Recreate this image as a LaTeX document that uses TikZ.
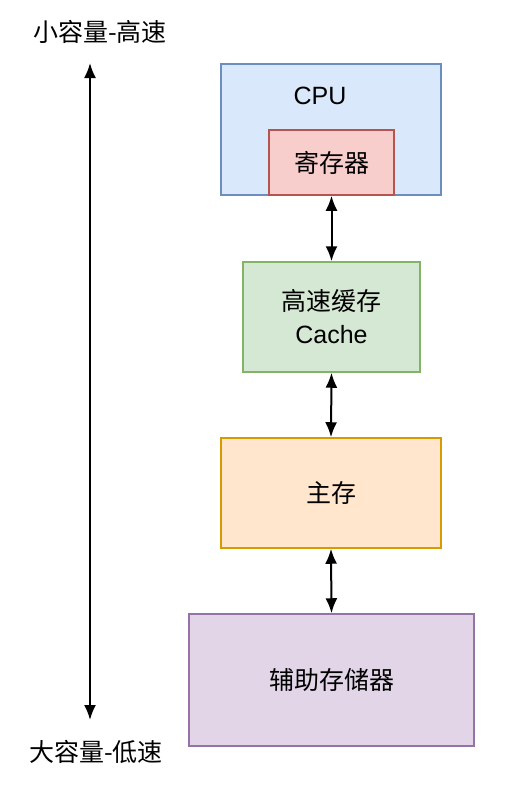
\documentclass[tikz,border=0pt]{standalone}
\usepackage{fontspec}
\setmainfont{Liberation Sans}
\newfontfamily\cjk{Noto Sans CJK SC}
\usepackage{tikz}
\usetikzlibrary{positioning}
\usetikzlibrary{arrows.meta}
\usepackage{xcolor}

\definecolor{blueFill}{HTML}{DAE8FC}
\definecolor{blueLine}{HTML}{6C8EBF}
\definecolor{redFill}{HTML}{F8CECC}
\definecolor{redLine}{HTML}{B85450}
\definecolor{greenFill}{HTML}{D5E8D4}
\definecolor{greenLine}{HTML}{82B366}
\definecolor{orangeFill}{HTML}{FFE6CC}
\definecolor{orangeLine}{HTML}{D79B00}
\definecolor{purpleFill}{HTML}{E1D5E7}
\definecolor{purpleLine}{HTML}{9673A6}

\tikzset{
  box/.style={draw, line width=1.5pt, inner sep=0pt, align=center,
    font=\fontsize{25}{33}\selectfont},
  link/.style={line width=2pt, {Latex[length=15pt,width=12pt]}-{Latex[length=15pt,width=12pt]}},
  side/.style={font=\fontsize{25}{28}\selectfont\cjk},
}

\begin{document}
\begin{tikzpicture}[x=1pt, y=-1pt]
  \useasboundingbox (0,0) rectangle (504,790);

  % storage levels
  \node[box, fill=blueFill, draw=blueLine, minimum width=220pt, minimum height=131pt] (cpu) at (331,129.5) {};
  \node[font=\fontsize{25}{28}\selectfont] (cpuText) at (320,96) {CPU};
  \node[box, fill=redFill, draw=redLine, minimum width=125pt, minimum height=65pt] (reg) at (331.5,162.5) {\cjk 寄存器};
  \node[box, fill=greenFill, draw=greenLine, minimum width=177pt, minimum height=110pt] (cache) at (331.5,317) {{\cjk 高速缓存}\\Cache};
  \node[box, fill=orangeFill, draw=orangeLine, minimum width=220pt, minimum height=110pt] (main) at (331,493) {\cjk 主存};
  \node[box, fill=purpleFill, draw=purpleLine, minimum width=285pt, minimum height=132pt] (aux) at (331.5,680) {\cjk 辅助存储器};

  \draw[link] (reg.south) -- (cache.north);
  \draw[link] (cache.south) -- (main.north);
  \draw[link] (main.south) -- (aux.north);

  % speed / size axis
  \node[side] (fast) at (100,32) {小容量-高速};
  \node[side] (slow) at (96,752) {大容量-低速};
  \coordinate (axisTop) at (90,63);
  \coordinate (axisBottom) at (90,720);
  \draw[link] (axisTop) -- (axisBottom);

\end{tikzpicture}
\end{document}
